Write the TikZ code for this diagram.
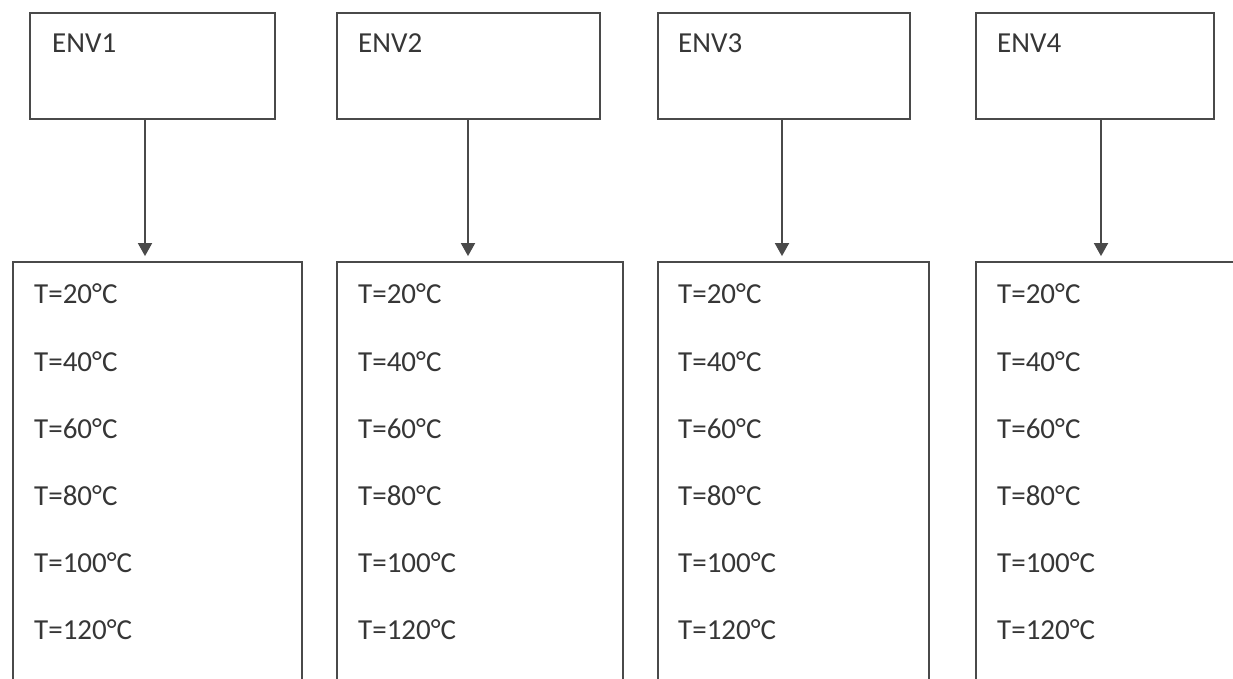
\documentclass[tikz,border=0pt]{standalone}
\usepackage{fontspec}
\setmainfont{Carlito}
\usetikzlibrary{arrows.meta,calc}
\definecolor{linegray}{HTML}{4a4a4a}
\definecolor{textgray}{HTML}{363636}

\begin{document}
\begin{tikzpicture}[x=1pt,y=-1pt,
  box/.style={draw=linegray, line width=1.8pt, inner sep=0pt},
  lbl/.style={anchor=west, text=textgray, inner sep=0pt,
    font=\fontsize{29}{33}\selectfont},
  link/.style={draw=linegray, line width=1.8pt, shorten >=5pt,
    -{Triangle[length=13pt,width=14pt]}}]
  \useasboundingbox (0,0) rectangle (1233,679);
  \clip (0,0) rectangle (1233,679);
  % one column per environment: top box, temperature box, arrow
  \foreach \i/\tl/\tr/\bl/\br/\ax/\ex/\tx in
      {1/30/275/13/302/145/52/34,
       2/337/600/337/623/468/358/358,
       3/658/910/658/929/782/678/678,
       4/976/1214/976/1260/1101/997/997}{
    \node[box, minimum width={\tr-\tl}, minimum height=106]
      (env\i) at ({(\tl+\tr)/2},66) {};
    \node[lbl] (name\i) at (\ex,43) {ENV\i};
    \node[box, minimum width={\br-\bl}, minimum height=440]
      (temps\i) at ({(\bl+\br)/2},482) {};
    \foreach \t [count=\k] in {20,40,60,80,100,120}
      \node[lbl] (t\i-\k) at (\tx,{294+67.2*(\k-1)}) {T=\t°C};
    \coordinate (ax\i) at (\ax,0);
    \draw[link] (env\i.south -| ax\i) -- (temps\i.north -| ax\i);
  }
\end{tikzpicture}
\end{document}
